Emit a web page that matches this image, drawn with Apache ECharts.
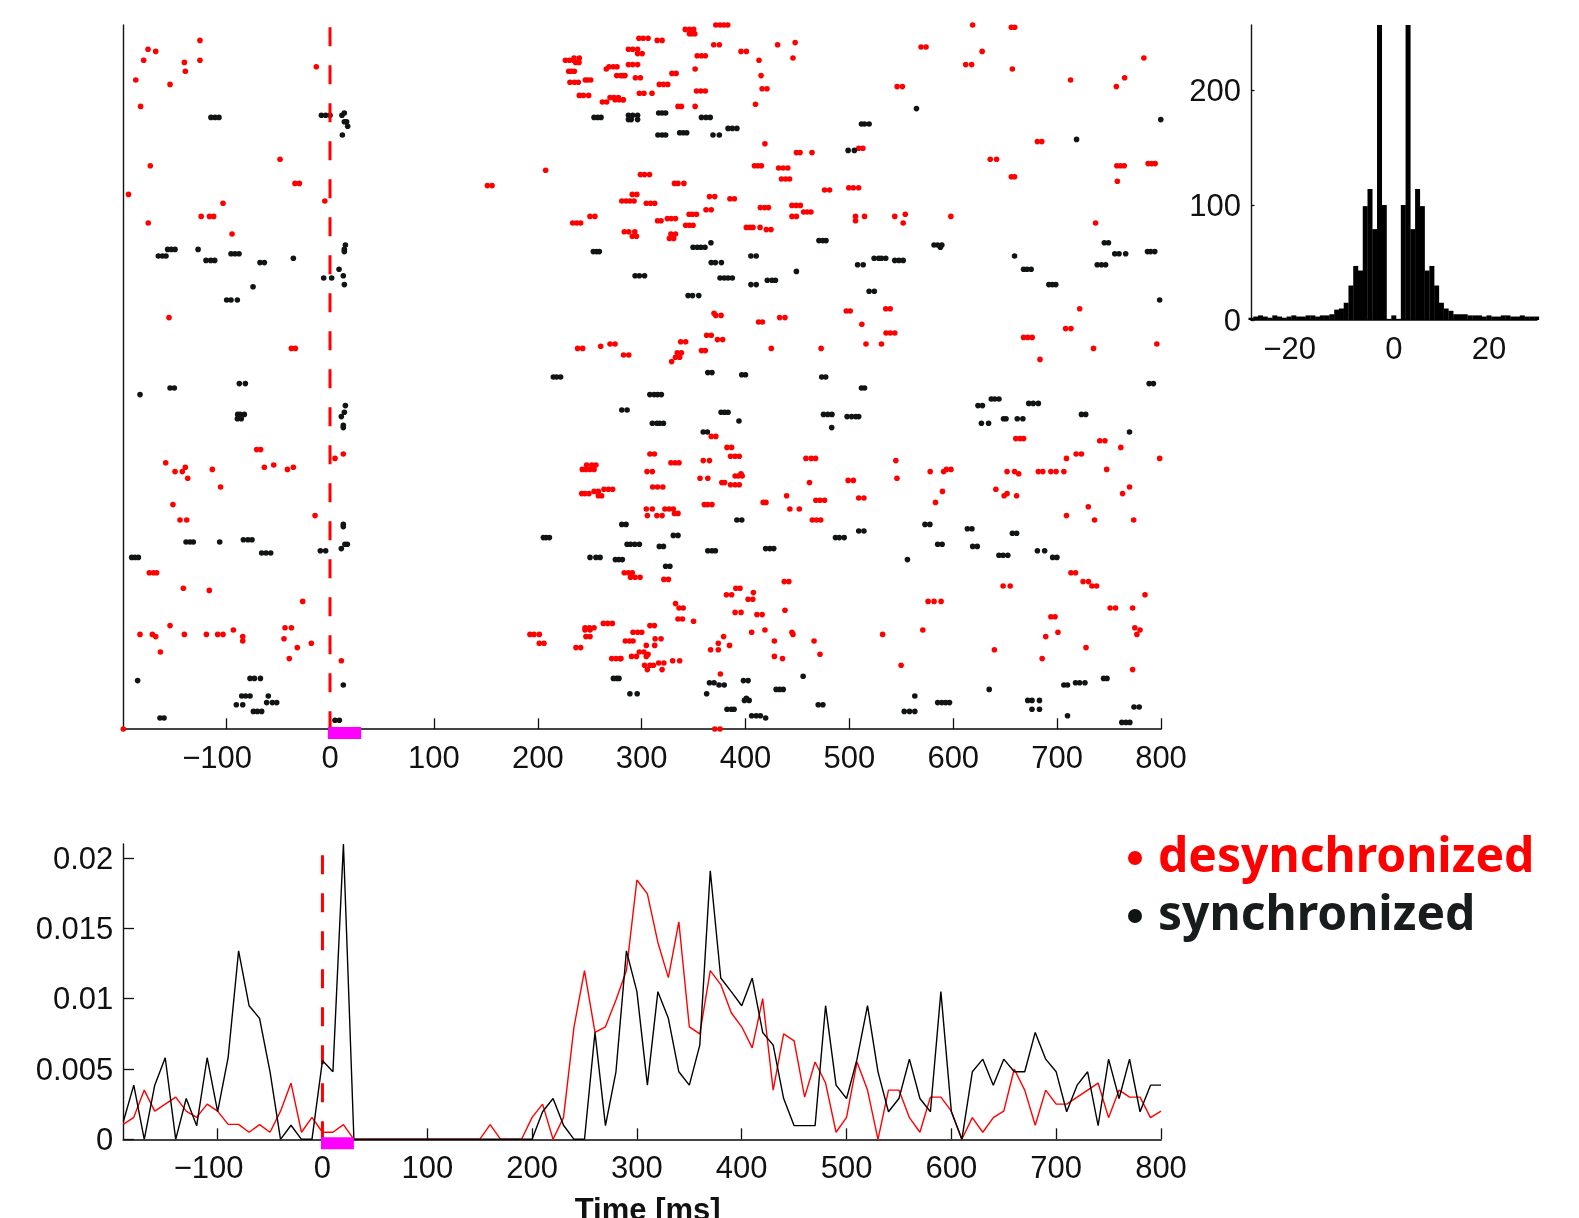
<!DOCTYPE html>
<html><head><meta charset="utf-8">
<style>html,body{margin:0;padding:0;background:#fff}#c{width:1579px;height:1218px}</style>
<script src="https://cdn.jsdelivr.net/npm/echarts@6/dist/echarts.min.js"></script>
</head><body><div id="c"></div>
<script>
// Raster rows: [trial, spike times in ms...]
const desyncRows = [
[313,-125.2],[309,-175.2],[308,-167.8],[304,-179.4,-125.2],[303,-140.2],[299,-139.3],[295,-187],[293,-154],[283,-182.3],[301,-13.2],
[259,-48.1],[256,-173],[243,-194],[248,-33.7,-29.5],[239,-103],[240,-5],[233,-124,-116,-112],[230,-175],[225,-94.3],[187,-155],[173,-37.2,-33.4],
[254,207.6],[247,151.5,156],[304,226.6,230.4,234.3],[305,234.9,240],[303,236.5,239.7],[299,229.8,232.3,235.2],[300,266],[301,268.6,272.8,276.3],
[297,276,279.8,284],[295,245.8,248,251],[294,231,235.2,239],[288,240,243.9,249],[287,269.6,273.4,277.6],[286,274.4,278.2,282.4],[285,262.2,266.3],
[309,287.3,291.4,296.1],[302,287.3,291.4,296.1],[173,238.4,243.2],[174,260.6],[175,269.6,274.4],[170,282.6,287.6],[240,280.9,285,288.7,292.7],[243,291,295.4],
[233,250.3,255],[230,233.6,237.5,241.3],[226,283.3,287.6,293.4],
[320,371.4,375.5,379.2,382.9],[318,342,346,350.1],[316,346,348.4,351.2],[314,297.4,301.5,306.2],[313,315,319.7],[311,369.4,374.8],[307,296.1,300.5],[308,395.7,400.8],
[306,353.5,357.6,361.3],[311,430.9],[312,447.8],[305,445.7],[304,413],[300,351.5],[298,329.2,333.2],[297,282,415],[296,294,298.8],[293,317,321,325.1],
[290,352.8,356.9,361.3],[291,416,420.7],[289,297.8,302.2,310],[286,282],[283,335,338.3,351.5],[284,409.6],[320,618.7],[319,655.9,659.2],[310,569,573.8],[308,627.8],
[302,612,617.7],[300,656.9],[305,783.5],[295,713],[296,765],[292,757],[292,546,551],
[266,418.7],[262,449,452.5,464],[264,509,513],[267,681,685.2],[259,635.6,641.7],[256,408.6,412,415.3],[255,431.9,436.3,440.7],[250,434.6,438.6,442.4],
[256,757.5,761,764.6],[257,787.6,791,794.4],[249,758],[251,655.9,659],[252,298.8,302.8,307.6],[248,331.6,335,340.7],[239,304.5,308.6,312.6],[242,365.3,370.4],[241,385,389.3],
[245,476.1,480.9],[246,499.4,503.8,508.9],[238,444.7,448.8,452.8],[237,414.3,418.4,422.1],[235,455.9,459.3,463],[233,444.7,449,505.9,514.6,543.7,597.7],[231,505.9],
[236,362,367],[234,345.7,349,352.8,553.8],[231,315.3,318.7],[232,324.8,328.5,332.6],[229,342.4,346.1,349.5],[228,400.8,404.2,407.2,414],[227,420,424.5],
[224,291,295],[225,328.2,332.6],[223,326.8,330.9],[230,551.8,737],[191,721.7,535,539.3],[182,708.2,713.3],[178,667.7,671.7,676],[173,735,424.8,472.8],[168,683.5],[175,796,516,530.9],
[189,369.7],[188,371.4,376.5],[185,412.6,416.3],[187,432.9,438],[190,497,500.8],[184,512],[180,535.3,539.3,543.7],[179,362.6,367],[177,373,378],[176,337.6,342.4],
[172,357.6,361.3],[171,334.3,338.3],[169,332.6,336.6],[167,328.9],
[127,-70.6,-66.8],[123,4.8],[125,12.8],[121,-158.2],[117,-149.2,-142.2],[119,-139.3,-63.2,-35.3],[114,-137],[118,-113.3,-41],[110,-105.3],[120,-54.2],
[102,-151.2],[95,-144.4,-138],[97,-14.4],[71,-174,-170,-166.9],[64,-141.2],[63,-116.2],[58,-26.3],[43,-182.9,-171,-140.2,-119,-108.1,-103],[42,-167.8,-84],[47,-154],[45,-93],
[40,-84],[35,-163.3],[46,-43.3,-37.2],[41,-44.3],[37,-31.5],[39,-18],[32,-39.2],[31,10.9],[0,-199,370.4,375.5],
[118,242.9,246.4,250.3,254.2],[120,247,252,256],[107,242.3,245.5,249.3],[108,254.2,258.3],[106,258.3,261.5],[109,263.8,268,272.1],[43,192.5,196.4,201.5],[39,201.5,206],
[37,236.8,241.3],[46,245.5,249.7,254.2],[45,245.5,250.3],[42,246.4,250.3],[48,263.1,267.3,271.8],[32,271.2,275.3,280.1],[71,283.3,287.3,291],[69,289.3,293.7,298.5],[40,284.3,288.3,291.7],
[125,308,312.3],[121,328.2,332.2,336],[117,305.2,310.3],[110,310.6,315.3,320.4],[122,359.3,365.3],[114,356.2,363.7],[133,367,371.4],[128,382.2,386.6],[124,385.6,390,394],
[116,395.7],[115,390,393,396.8],[112,377.2,379.9],[111,385.6,390,394],[102,360.3,363.6,367.7],[100,304.5,310.3],[97,305.5,314.7,319.7],[100,322.4,326.5,330.5],[98,331.6,335],
[103,417,419.7],[106,439.6],[100,442.7,451.8],[123,458.2,463.3,467.4],[112,461.6],[104,467.7,471.7,476.1],[95,464.3,468.4,472.4],[113,498.8,503.8],[105,509,514],
[122,544.7],[114,545.8],[117,577.8,590.7],[118,593.4,597.8],[108,589.6],[103,582.9],[132,660.2,664.3,667.7],[117,651.8,659,681.9,686.2,694,699,706.5],[116,663],
[123,709,798.7],[125,718.3,723.4],[131,741,746],[128,761.3],[118,747.7],[109,641],[106,649,661],[107,651.8,763],[110,769.7],[101,730],[97,709],[95,736,773.7],
[67,437.3,441.7],[65,648,654.8],[71,713.3,717.7],[67,725,730.2],[65,733.5,738],[64,390.7,394.7],[62,407.6],[59,402.5,407],[61,381.6,386.6],[68,321.4,325.8],[57,332.6],[55,336,340],
[50,335,339.3],[49,350],[54,438],[53,390,395.7],[52,411,416],[58,575.8,581.5,588.3],[55,751,756.2,772.7],[61,784.6],[51,694,698],[47,308,312.3],[44,291.7,296.1,300.1],
[41,313,318.7],[38,312.6,304.5,384.6],[33,290.3,295,304.5],[35,297.8,302.2],[34,306.2],[29,302.8,308,311.3,549.8],[27,305.5,319.7,772.7],[30,316.4,321.4],[31,329.9,336.6],
[36,366.4,373.8,639.6],[39,373.8],[42,378.9,689],[25,375.8],[44,405.9,444.7,700.8],[45,418.7,570.7,779.8],[43,445.7,532,776.8],[40,427.8,466],[33,427.8],[32,435.6,279.2,685.6],[34,471.7],
[37,727.8],[46,774.8]
];
const syncRows = [
[278,-114.6,-110.7,-106.9,254.2,257.7,260.9,357.6,362,366],[279,-8.3,-4.2,0,11.5,287.3,291.4,296.1],[280,13.8,316.4,319.7,323.1],[276,13.8,16],[274,17],[270,11.9,315.7,319.7,323.1,368.7,374.8],
[218,-156.3,-152.8,-149.2,-127,13.8],[215,-165.3,-161.4,-157.9,405.2,410.3,659],[213,-119.4,-114.9,-111,543.7,547.7,551.8],[216,-95.3,-91.5,-87.6,755.5,759.6,766],[212,-67.4,-63.2,367,371,376.8],[214,-35.3,523.8,528.2,530.9,535],
[220,14.8,581.5,585,589],[217,13.8,253.5,256.7,259.3,787,790,794],[209,8.7,667.7,671,675],[206,12.8,293.7,297.8,302.8],[202,13.8,405.2,410.3,692,695.4,698.7],[205,-6.1,1.6,375.5,379.5,383.2,387.3],[201,-74.1],[195,-99.5,-95.3,-89.2,798.7],
[160,215,218.2,222,473.4,477.2],[277,287.3,290,296.1,799.8],[271,336.6,340,343.4],[273,383.2,387.3,391.7],[275,511.6,514.6,519],[282,564.6],[263,498.8,504.8],[268,718.7],
[219,349.5,353.5,357,361,587.6],[221,366.7,745.4,749.4],[222,470.7,474.4,477.5],[211,507.9,513.3,738.6,742.7,746.7],[208,449],[204,421,425.5,428.8],[199,519,524],[197,344.7,349,355],
[162,363.7,367.7],[161,396.4,400],
[152,-182.9,307.9,312,315.3,319],[155,-154,-149.9,511.6,514.6],[157,-87.3,-81.5,788.6,792.7],[143,-88.9,-86.6,-82.5,475.1,479.2,483.2,723.4,727.5],[141,-89.2,-85.4,648.4,650.8,661.6,667],
[147,14.8,623.8,628.1],[144,13.8,376.5,379.9,383.2],[142,10.9,497.8,502.2,506.2,509],[138,12.8],[137,12.8,483],[145,280.9,286],[93,12.8,280.9,285,572.8,577.5],[92,12.8],
[87,205.4,208,211.2,486.6,490.3,495],[84,14.4,16.7,286,289.3,293.4,297.8,585,589.3],[82,10.9,419.4,423.4,427.2],[81,-9.3,-4.2,363.7,367.7,371,681,688],[85,-138.6,-134.8,-131.6,-106.2],[86,-83.4,-79,-75.1],
[80,-65.8,-61.6,-57.1],[78,-190.9,-187.7,-184.5,250.3,256,260,695.7,699.8],[77,274.7,278,281.4,555.9],[22,-185.2,398,402.5],[20,12.8,379.5,374.5,706.5,710],[23,-77,-72.8,-67,272.8,276,278.2,744.7,748],
[15,-59.4,-85,-81.2,-77,563],[11,-90.2,-84,470,474.5],[12,-61,-55.5,-51.3,585,589,592.7,596.4],[8,-73.8,-70,-65.8,552.8,557.9,563],[5,-163.7,-159.8,419.4],[4,4.8,9],[16,288.7,295.7,362.6],
[139,310.3,314.7,317.4,321,627.1,634],[135,359.3,363.3,769.7],[140,393.7],[150,636.6,640,644],[148,672.7,677,681.9],[83,317,321,618.7,623.1],[88,330.5,335],[74,323.1,327.2],[95,391.7,396.4],
[90,509,514],[91,613.6,618],[89,656.9,661],[79,644,648,652.5],[24,455.5],[21,365.3,369.7,717.7,721.7,726.8],[9,382.2,386.3,389,675.8,683],[13,399,403.5,671.7,675.8,683],[14,400.8],
[6,405.9,410.3,414.3,710],[18,429.5,432.9,436.3,634.6],[10,774,779],[3,762.3,766.3,770]
];
// Autocorrelogram
const histLags = [-30,-29,-28,-27,-26,-25,-24,-23,-22,-21,-20,-19,-18,-17,-16,-15,-14,-13,-12,-11,-10,-9,-8,-7,-6,-5,-4,-3,-2,-1,0,1,2,3,4,5,6,7,8,9,10,11,12,13,14,15,16,17,18,19,20,21,22,23,24,25,26,27,28,29,30];
const histCounts = [2,3,4,3,2,4,3,2,3,4,3,3,4,4,3,4,4,5,9,10,15,30,47,43,99,114,79,600,100,1,4,1,100,600,79,114,99,43,47,30,15,10,8,5,5,5,4,4,4,3,4,3,3,4,4,3,3,4,3,3,3];
// Rate curves, 10 ms bins from -190 to 800
const rateStart = -190, rateStep = 10;
const rateDesync = [.00106,.00156,.0035,.002,.0025,.003,.002,.00156,.0025,.002,.00106,.00106,.0005,.00104,.0005,.002,.004,.0005,.00156,.0005,.0005,.00104,0,
0,0,0,0,0,0,0,0,0,0,0,0,.00104,0,0,0,.00156,.0025,0,.00156,.008,.012,.0076,.008,.0099,.012,.01844,.01745,.014,.0115,.01546,.008,.0075,.012,.011,.009,.008,.0065,.01,.0035,.0075,.007,.003,.0055,.004,.0005,.00156,.0055,.0035,0,.0035,.0035,.00154,.0005,.003,.003,.002,0,.00154,.0005,.00154,.002,.005,.0035,.001,.0035,.0025,.0025,.003,.0035,.004,.00154,.0035,.003,.003,.00154,.002];
const rateSync = [.00125,.00385,0,.00385,.0058,0,.0029,.00097,.0058,.00196,.0058,.0134,.0095,.0086,.0048,0,.001,0,0,.0056,.0048,.021,0,
0,0,0,0,0,0,0,0,0,0,0,0,0,0,0,0,0,.00196,.0029,.001,0,0,.0076,.00097,.0048,.0134,.0105,.00385,.0105,.0086,.0048,.00385,.0067,.0191,.01147,.0105,.0095,.01147,.0076,.0067,.0029,.00097,.00097,.00097,.0095,.00385,.0029,.0057,.0095,.0048,.00196,.0029,.0057,.0029,.00196,.0105,.00196,0,.0048,.0057,.00385,.0057,.0048,.0048,.0076,.0057,.0048,.00196,.00385,.0048,.00097,.0057,.0029,.0057,.00196,.00385,.00385];
const rasterTicks = [-100,0,100,200,300,400,500,600,700,800];
const histXTicks = [-20,0,20], histYTicks = [0,100,200];
const rateYTicks = [0,.005,.01,.015,.02];
const rasterStim = [-2,30], rateStim = [-1.4,30];
const RED = '#ff0000', BLACK = '#000000', MAG = '#ff00ff', FONT = 'Liberation Sans', INK = '#111111', FS = 31;

const flatten = rows => rows.flatMap(r => r.slice(1).map(t => [t, r[0]]));
const rateSeries = vals => vals.map((v, i) => [rateStart + i * rateStep, v]);

const fmtSigned = v => v < 0 ? '{m|\u2212' + Math.abs(v) + '}' : '{p|' + v + '}';
const labelStyle = (size) => ({
  color: INK, fontFamily: FONT, fontSize: size,
  rich: {
    m: {color: INK, fontFamily: FONT, fontSize: size, padding: [0, Math.round(size * 0.584), 0, 0]},
    p: {color: INK, fontFamily: FONT, fontSize: size}
  }
});
const spine = (w, c) => ({show: true, onZero: false, lineStyle: {color: c, width: w}});

function xAxis(grid, min, max, ticks, tickLen, margin, extra) {
  return Object.assign({
    type: 'value', gridIndex: grid, min, max, splitLine: {show: false},
    axisLine: spine(2, '#444444'),
    axisTick: {show: true, inside: true, length: tickLen, customValues: ticks, lineStyle: {color: '#111', width: 1.3}},
    axisLabel: Object.assign({show: true, customValues: ticks, margin, formatter: fmtSigned, hideOverlap: false}, labelStyle(FS))
  }, extra || {});
}
function yAxis(grid, min, max, ticks, tickLen) {
  return {
    type: 'value', gridIndex: grid, min, max, splitLine: {show: false},
    axisLine: spine(1.4, '#111111'),
    axisTick: ticks ? {show: true, inside: true, length: tickLen, customValues: ticks, lineStyle: {color: '#111', width: 1.3}} : {show: false},
    axisLabel: ticks ? {show: true, customValues: ticks, margin: 10, color: INK, fontFamily: FONT, fontSize: FS, hideOverlap: false,
      formatter: v => '{y|' + v + '}',
      rich: {y: {color: INK, fontFamily: FONT, fontSize: FS, padding: [4, 0, 0, 0]}}} : {show: false}
  };
}
const stimBar = (ax, range) => ({
  type: 'custom', xAxisIndex: ax, yAxisIndex: ax, z: 5, clip: false, silent: true,
  encode: {x: [0, 1], y: 2}, data: [[range[0], range[1], 0]],
  renderItem: (p, api) => {
    const a = api.coord([api.value(0), api.value(2)]), b = api.coord([api.value(1), api.value(2)]);
    return {type: 'rect', shape: {x: a[0], y: a[1] - 2, width: b[0] - a[0], height: 12}, style: {fill: MAG}};
  }
});
const dashLine = (ax, top) => ({
  type: 'line', xAxisIndex: ax, yAxisIndex: ax, symbol: 'none', silent: true, clip: false, z: 3,
  data: [[0, top], [0, 0]], lineStyle: {color: RED, width: 3, type: [19, 19]}
});

const chart = echarts.init(document.getElementById('c'), null, {renderer: 'canvas'});
chart.setOption({
  animation: false, backgroundColor: '#fff',
  grid: [
    {left: 123.3, top: 25, width: 1037.7, height: 704, outerBoundsMode: 'none'},
    {left: 1251, top: 25, width: 285.6, height: 295, outerBoundsMode: 'none'},
    {left: 123.3, top: 844, width: 1037.7, height: 295.3, outerBoundsMode: 'none'}
  ],
  xAxis: [
    xAxis(0, -199, 800, rasterTicks, 10.7, 15),
    xAxis(1, -30, 30, histXTicks, 0, 15),
    xAxis(2, -190, 800, rasterTicks, 11, 15, {
      name: 'Time [ms]', nameLocation: 'middle', nameGap: 57,
      nameTextStyle: {color: INK, fontFamily: FONT, fontWeight: 'bold', fontSize: 31, padding: [0, 0, 0, 11]}
    })
  ],
  yAxis: [
    yAxis(0, 0, 320, null),
    yAxis(1, 0, 256.5, histYTicks, 3.5),
    yAxis(2, 0, 0.021, rateYTicks, 10.7)
  ],
  legend: {
    show: true, orient: 'vertical', left: 1123, top: 824, itemWidth: 36, itemHeight: 14, itemGap: 0,
    selectedMode: false, icon: 'circle',
    textStyle: {fontFamily: 'Noto Sans', fontWeight: 'bold', fontSize: 48, lineHeight: 50, padding: [8, 0, 0, 0]},
    data: [
      {name: 'desynchronized', textStyle: {color: RED}},
      {name: 'synchronized', textStyle: {color: '#181c1c'}}
    ]
  },
  series: [
    {name: 'desynchronized', type: 'scatter', xAxisIndex: 0, yAxisIndex: 0, symbolSize: 5.6, clip: false,
     itemStyle: {color: RED, opacity: 1}, data: flatten(desyncRows)},
    {name: 'synchronized', type: 'scatter', xAxisIndex: 0, yAxisIndex: 0, symbolSize: 5.6, clip: false,
     itemStyle: {color: '#111414', opacity: 1}, data: flatten(syncRows)},
    dashLine(0, 319),
    stimBar(0, rasterStim),
    {name: 'autocorrelogram', type: 'bar', xAxisIndex: 1, yAxisIndex: 1, barWidth: 5, itemStyle: {color: BLACK},
     data: histLags.map((l, i) => [l, histCounts[i]])},
    dashLine(2, 0.0202),
    {name: 'desynchronized rate', type: 'line', xAxisIndex: 2, yAxisIndex: 2, symbol: 'none', z: 4,
     lineStyle: {color: RED, width: 1.4}, data: rateSeries(rateDesync)},
    {name: 'synchronized rate', type: 'line', xAxisIndex: 2, yAxisIndex: 2, symbol: 'none', z: 4,
     lineStyle: {color: BLACK, width: 1.4}, data: rateSeries(rateSync)},
    stimBar(2, rateStim)
  ]
});
</script></body></html>
